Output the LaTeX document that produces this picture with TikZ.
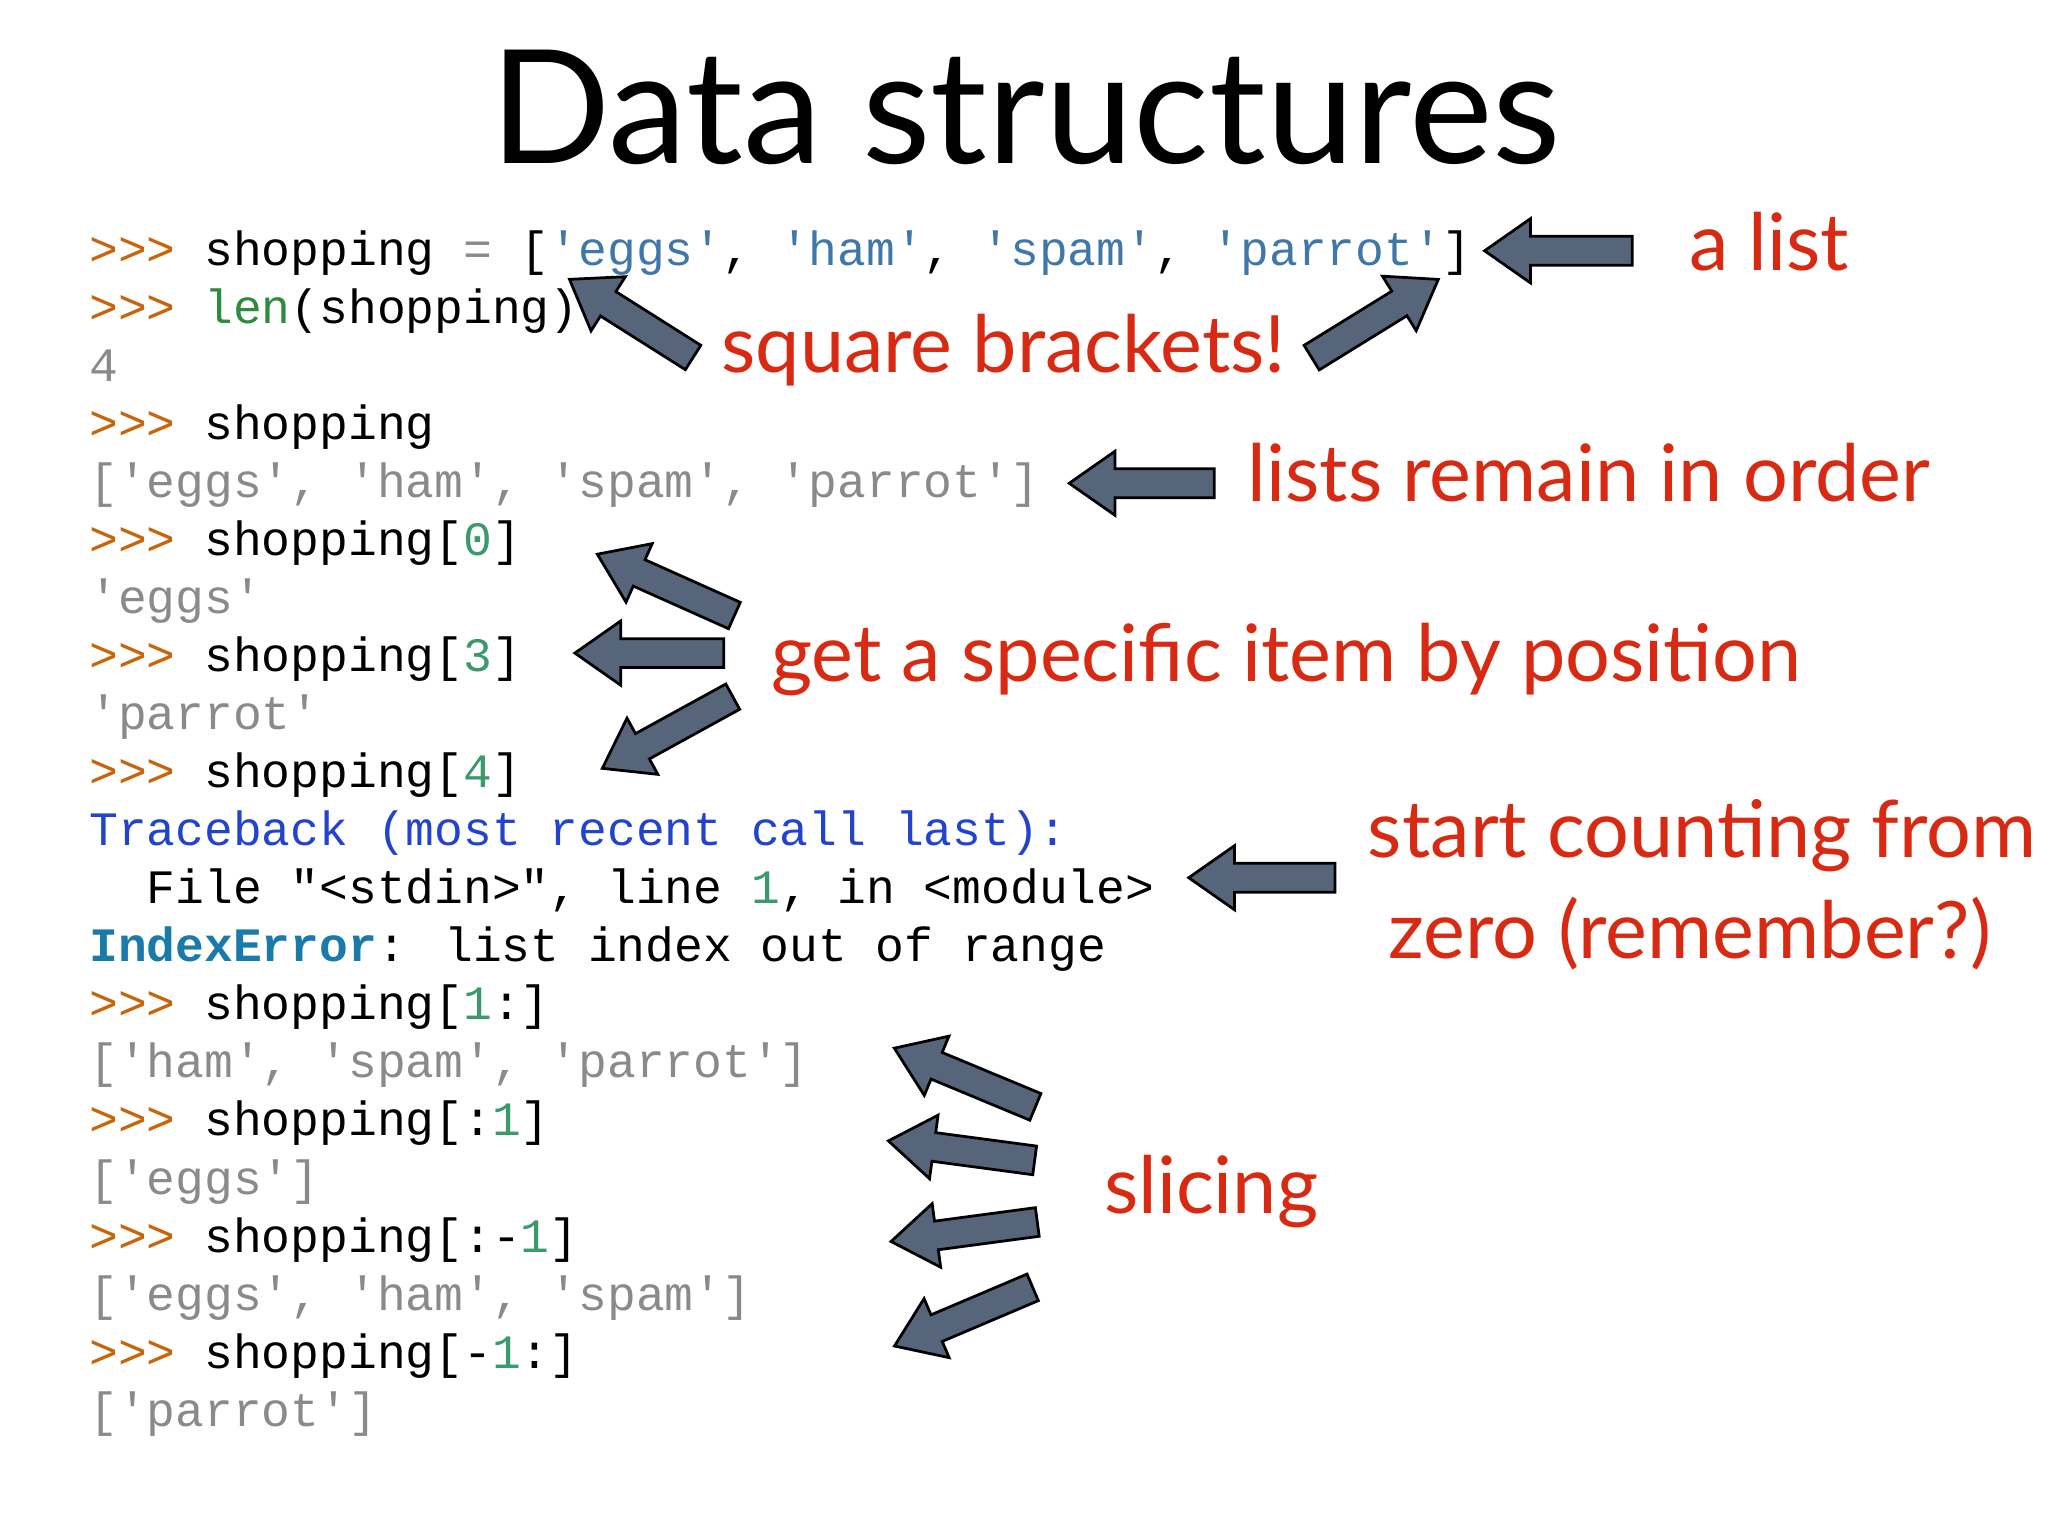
\documentclass[tikz,border=0pt]{standalone}
\usepackage{fontspec}
\setmainfont{Lato}
\newfontfamily\codef{Liberation Mono}
\usetikzlibrary{shapes.arrows}
\definecolor{pr}{HTML}{C8640A}
\definecolor{st}{HTML}{3F78A8}
\definecolor{og}{HTML}{8A8A8A}
\definecolor{nm}{HTML}{3A9A6A}
\definecolor{tb}{HTML}{2244CC}
\definecolor{ie}{HTML}{1A7AAA}
\definecolor{fn}{HTML}{2E8B3E}
\definecolor{lab}{HTML}{D82A12}
\definecolor{arr}{HTML}{56657A}
\newcommand{\pp}{\textcolor{pr}{>>>} }
\begin{document}
\begin{tikzpicture}[x=0.02cm,y=-0.02cm,
  code/.style={anchor=base west,inner sep=0,font=\codef\fontsize{20.9}{24}\selectfont},
  lbl/.style={anchor=west,inner sep=0,text=lab,font=\fontsize{34.5}{42}\selectfont},
  barrow/.style={single arrow,draw=black,line width=1.2pt,fill=arr,inner xsep=0,inner ysep=0.2cm,
     minimum width=0.94cm,single arrow head extend=0.27cm,single arrow tip angle=70,
     single arrow head indent=0cm}]
\useasboundingbox (0,0) rectangle (1568,1176);
\node[font=\fontsize{69}{80}\selectfont,inner sep=0] (title) at (785,82) {Data structures};
% code lines
\node[code] (c0) at (68,203) {\pp shopping \textcolor{og}{=} [\textcolor{st}{'eggs'}, \textcolor{st}{'ham'}, \textcolor{st}{'spam'}, \textcolor{st}{'parrot'}]};
\node[code] (c1) at (68,247.5) {\pp \textcolor{fn}{len}(shopping)};
\node[code,text=og] (c2) at (68,292) {4};
\node[code] (c3) at (68,336.4) {\pp shopping};
\node[code,text=og] (c4) at (68,380.8) {['eggs', 'ham', 'spam', 'parrot']};
\node[code] (c5) at (68,425.3) {\pp shopping[\textcolor{nm}{0}]};
\node[code,text=og] (c6) at (68,469.7) {'eggs'};
\node[code] (c7) at (68,514.2) {\pp shopping[\textcolor{nm}{3}]};
\node[code,text=og] (c8) at (68,558.6) {'parrot'};
\node[code] (c9) at (68,603) {\pp shopping[\textcolor{nm}{4}]};
\node[code,text=tb] (c10) at (68,647.5) {Traceback (most recent call last):};
\node[code] (c11) at (68,692) {\hspace*{2\fontcharwd\font`x}File "<stdin>", line \textcolor{nm}{1}, in <module>};
\node[code] (c12) at (68,736.4) {\textcolor{ie}{\bfseries IndexError}: list index out of range};
\node[code] (c13) at (68,780.8) {\pp shopping[\textcolor{nm}{1}:]};
\node[code,text=og] (c14) at (68,825.3) {['ham', 'spam', 'parrot']};
\node[code] (c15) at (68,869.7) {\pp shopping[:\textcolor{nm}{1}]};
\node[code,text=og] (c16) at (68,914.2) {['eggs']};
\node[code] (c17) at (68,958.6) {\pp shopping[:-\textcolor{nm}{1}]};
\node[code,text=og] (c18) at (68,1003) {['eggs', 'ham', 'spam']};
\node[code] (c19) at (68,1047.5) {\pp shopping[-\textcolor{nm}{1}:]};
\node[code,text=og] (c20) at (68,1092) {['parrot']};
% labels
\node[lbl] (l1) at (1293,185) {a list};
\node[lbl] (l2) at (552,268) {square brackets!};
\node[lbl] (l3) at (955,362) {lists remain in order};
\node[lbl] (l4) at (590,505) {get a specific item by position};
\node[lbl] (l5) at (1047,640) {start counting from};
\node[lbl] (l6) at (1063,715) {zero (remember?)};
\node[lbl] (l7) at (845,912) {slicing};
% arrows
\node[barrow,minimum height=2.26cm,rotate=180] (a1) at (1201,192) {};
\node[barrow,minimum height=2.24cm,rotate=147.7] (a2) at (490,248) {};
\node[barrow,minimum height=2.28cm,rotate=31.7] (a3) at (1046,248) {};
\node[barrow,minimum height=2.22cm,rotate=180] (a4) at (882,370) {};
\node[barrow,minimum height=2.30cm,rotate=155.9] (a5) at (517,451) {};
\node[barrow,minimum height=2.28cm,rotate=180] (a6) at (505,500) {};
\node[barrow,minimum height=2.28cm,rotate=208.8] (a7) at (518,557) {};
\node[barrow,minimum height=2.24cm,rotate=180] (a8) at (974,672) {};
\node[barrow,minimum height=2.34cm,rotate=157.4] (a9) at (746,828) {};
\node[barrow,minimum height=2.26cm,rotate=172.4] (a10) at (744,882) {};
\node[barrow,minimum height=2.26cm,rotate=187.6] (a11) at (746,942) {};
\node[barrow,minimum height=2.30cm,rotate=203] (a12) at (745,1005) {};
\end{tikzpicture}
\end{document}
